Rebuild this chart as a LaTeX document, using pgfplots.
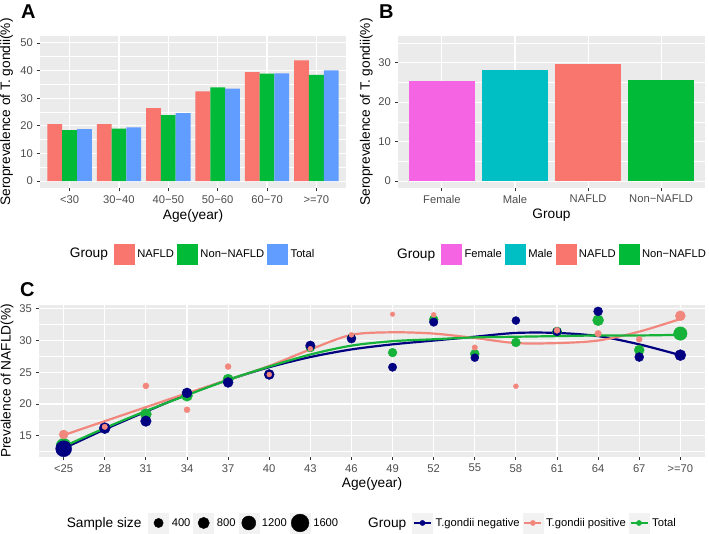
\documentclass[border=0pt]{standalone}
\usepackage{fontspec}
\setmainfont{Liberation Sans}
\usepackage{pgfplots}
\pgfplotsset{compat=1.18}
\definecolor{ggbg}{HTML}{EBEBEB}
\definecolor{ggred}{HTML}{F8766D}
\definecolor{gggreen}{HTML}{00BA38}
\definecolor{ggblue}{HTML}{619CFF}
\definecolor{ggpink}{HTML}{F564E3}
\definecolor{ggcyan}{HTML}{00BFC4}
\definecolor{ticklab}{HTML}{4D4D4D}
\definecolor{tickcol}{HTML}{333333}
\definecolor{cnavy}{HTML}{000080}
\definecolor{csalmon}{HTML}{F2877E}
\definecolor{cgreen}{HTML}{17B23A}
\definecolor{keybg}{HTML}{F2F2F2}
\newcommand{\ticksize}{\fontsize{11.2}{13}\selectfont}
\newcommand{\titlesize}{\fontsize{13.7}{15}\selectfont}
\pgfplotsset{
  gg/.style={
    scale only axis,
    axis background/.style={fill=ggbg},
    axis x line*=bottom, axis y line*=left,
    axis line style={draw=none},
    tick align=outside,
    major tick length=3.4pt,
    minor tick length=0pt,
    tick style={draw=tickcol, line width=0.8pt},
    xmajorgrids, ymajorgrids, yminorgrids,
    major grid style={draw=white, line width=1.1pt},
    minor grid style={draw=white, line width=0.55pt},
    tick label style={font=\ticksize, text=ticklab},
    xticklabel style={inner sep=0pt, anchor=north, yshift=-3.6pt},
    yticklabel style={inner sep=0pt, anchor=east, xshift=-3.6pt},
    label style={font=\titlesize},
    /pgf/number format/assume math mode=true,
    legend style={draw=none, fill=none, legend columns=-1, font=\ticksize,
      nodes={inner sep=3pt}, anchor=center},
  },
  sqkey/.style={legend image code/.code={\fill[#1] (0pt,-10pt) rectangle (20pt,10pt);}},
  dotkey/.style={legend image code/.code={\fill[keybg] (0pt,-10pt) rectangle (20pt,10pt);\fill[black] (10pt,0pt) circle (#1);}},
  linekey/.style={legend image code/.code={\fill[keybg] (0pt,-10pt) rectangle (20pt,10pt);\draw[#1, line width=2.2pt] (1.5pt,0pt) -- (18.5pt,0pt);\fill[#1] (10pt,0pt) circle (2.6pt);}},
  sized/.style={scatter, only marks, mark=*, point meta=y,
    scatter/use mapped color={draw=#1, fill=#1},
    visualization depends on={\thisrow{r} \as \rad},
    scatter/@pre marker code/.append style={/tikz/mark size=\rad}},
}
\begin{document}
\begin{tikzpicture}
\useasboundingbox (0pt,0pt) rectangle (709pt,-534pt);
% ---------------- Panel A ----------------
\begin{axis}[gg,
  at={(40pt,-188pt)}, anchor=south west, width=306pt, height=152pt,
  xmin=0.4, xmax=6.6, ymin=-2.5, ymax=52.5,
  xtick={1,2,3,4,5,6},
  xticklabels={<30,30−40,40−50,50−60,60−70,>=70},
  ytick={0,10,20,30,40,50}, minor ytick={5,15,25,35,45},
  xlabel={Age(year)}, ylabel={Seroprevalence of T. gondii(\%)},
  xlabel style={at={(axis description cs:0.5,-0.184)}, anchor=center},
  ylabel style={at={(axis description cs:-0.109,0.5)}, anchor=center},
  legend style={at={(axis description cs:0.497,-0.434)}},
]
\addplot[forget plot, ybar, bar width=0.3, bar shift=-0.3, fill=ggred, draw=none]
  coordinates {(1,20.6) (2,20.6) (3,26.4) (4,32.5) (5,39.4) (6,43.7)};
\addplot[forget plot, ybar, bar width=0.3, bar shift=0, fill=gggreen, draw=none]
  coordinates {(1,18.4) (2,19.0) (3,23.9) (4,33.9) (5,38.9) (6,38.4)};
\addplot[forget plot, ybar, bar width=0.3, bar shift=0.3, fill=ggblue, draw=none]
  coordinates {(1,18.8) (2,19.4) (3,24.6) (4,33.5) (5,39.0) (6,40.1)};
\addlegendimage{empty legend}\addlegendentry{\titlesize Group\kern3pt}
\addlegendimage{sqkey=ggred}\addlegendentry{NAFLD}
\addlegendimage{sqkey=gggreen}\addlegendentry{Non−NAFLD}
\addlegendimage{sqkey=ggblue}\addlegendentry{Total}
\end{axis}
% ---------------- Panel B ----------------
\begin{axis}[gg,
  at={(398pt,-188pt)}, anchor=south west, width=307pt, height=152pt,
  xmin=0.4, xmax=4.6, ymin=-1.75, ymax=36.75,
  xtick={1,2,3,4},
  xticklabels={Female,Male,NAFLD,Non−NAFLD},
  ytick={0,10,20,30}, minor ytick={5,15,25,35},
  xlabel={Group}, ylabel={Seroprevalence of T. gondii(\%)},
  xlabel style={at={(axis description cs:0.5,-0.181)}, anchor=center},
  ylabel style={at={(axis description cs:-0.103,0.5)}, anchor=center},
  legend style={at={(axis description cs:0.500,-0.434)}},
]
\addplot[forget plot, ybar, bar width=0.9, bar shift=0, fill=ggpink, draw=none] coordinates {(1,25.3)};
\addplot[forget plot, ybar, bar width=0.9, bar shift=0, fill=ggcyan, draw=none] coordinates {(2,28.2)};
\addplot[forget plot, ybar, bar width=0.9, bar shift=0, fill=ggred, draw=none] coordinates {(3,29.7)};
\addplot[forget plot, ybar, bar width=0.9, bar shift=0, fill=gggreen, draw=none] coordinates {(4,25.6)};
\addlegendimage{empty legend}\addlegendentry{\titlesize Group\kern3pt}
\addlegendimage{sqkey=ggpink}\addlegendentry{Female}
\addlegendimage{sqkey=ggcyan}\addlegendentry{Male}
\addlegendimage{sqkey=ggred}\addlegendentry{NAFLD}
\addlegendimage{sqkey=gggreen}\addlegendentry{Non−NAFLD}
\end{axis}
% ---------------- Panel C ----------------
\begin{axis}[gg,
  at={(39pt,-457pt)}, anchor=south west, width=666pt, height=152pt,
  xmin=-0.6, xmax=15.6, ymin=11.65, ymax=35.6,
  xtick={0,1,...,15},
  xticklabels={<25,28,31,34,37,40,43,46,49,52,55,58,61,64,67,>=70},
  ytick={15,20,25,30,35}, minor ytick={12.5,17.5,22.5,27.5,32.5},
  xlabel={Age(year)}, ylabel={Prevalence of NAFLD(\%)},
  xlabel style={at={(axis description cs:0.5,-0.178)}, anchor=center},
  ylabel style={at={(axis description cs:-0.048,0.5)}, anchor=center},
  legend style={at={(axis description cs:0.499,-0.434)}},
]
% points: total
\addplot[forget plot, sized=cgreen] table {
x y r
0 13.4 7.5
1 16.2 5
2 18.4 5.5
3 21.3 5.5
4 23.9 5.2
5 24.7 4.5
6 28.9 4.5
7 30.5 4
8 28.1 4.4
9 33.3 4.5
10 27.9 4.5
11 29.7 4.5
12 31.4 4.75
13 33.2 5.5
14 28.5 5
15 31.1 6.75
};
% points: negative
\addplot[forget plot, sized=cnavy] table {
x y r
0 12.95 8
1 16.2 5.5
2 17.3 5.3
3 21.75 5
4 23.4 5
5 24.65 5
6 29.2 4.75
7 30.3 4.5
8 25.8 4.2
9 32.9 4.25
10 27.3 4
11 33.15 4
12 31.4 4.25
13 34.6 4.5
14 27.4 4.5
15 27.7 5.5
};
% points: positive
\addplot[forget plot, sized=csalmon] table {
x y r
0 15.2 4.5
1 16.4 2.75
2 22.85 3
3 19.1 3
4 25.9 3
5 24.65 2.5
6 28.7 2.5
7 30.9 2.5
8 34.15 2.3
9 34.05 2.5
10 28.9 2.75
11 22.8 2.5
12 31.6 3
13 31.1 3.25
14 30.2 3
15 33.9 5
};
% smooth curves
\addplot[forget plot, cnavy, line width=2.2pt, smooth, no marks] coordinates {
(0,13.0) (1,16.0) (2,18.8) (3,21.5) (4,23.8) (5,25.8) (6,27.4) (7,28.6)
(8,29.4) (9,30.0) (10,30.6) (11,31.2) (12,31.2) (13,30.7) (14,29.4) (15,27.7)};
\addplot[forget plot, csalmon, line width=2.2pt, smooth, no marks] coordinates {
(0,15.1) (1,17.3) (2,19.5) (3,21.7) (4,23.8) (5,26.0) (6,28.6) (7,30.9)
(8,31.3) (9,31.1) (10,30.4) (11,29.6) (12,29.6) (13,30.0) (14,31.4) (15,33.4)};
\addplot[forget plot, cgreen, line width=2.2pt, smooth, no marks] coordinates {
(0,13.3) (1,16.2) (2,18.9) (3,21.4) (4,23.8) (5,25.9) (6,27.8) (7,29.2)
(8,29.9) (9,30.2) (10,30.5) (11,30.6) (12,30.7) (13,30.8) (14,30.8) (15,30.9)};
\addlegendimage{empty legend}\addlegendentry{\titlesize Sample size\kern4pt}
\addlegendimage{dotkey=4.65pt}\addlegendentry{400}
\addlegendimage{dotkey=5.65pt}\addlegendentry{800}
\addlegendimage{dotkey=7pt}\addlegendentry{1200}
\addlegendimage{dotkey=8.85pt}\addlegendentry{1600\kern24pt}
\addlegendimage{empty legend}\addlegendentry{\titlesize Group\kern3pt}
\addlegendimage{linekey=cnavy}\addlegendentry{T.gondii negative}
\addlegendimage{linekey=csalmon}\addlegendentry{T.gondii positive}
\addlegendimage{linekey=cgreen}\addlegendentry{Total}
\end{axis}
\node[anchor=base west, inner sep=0pt, font=\fontsize{20}{22}\selectfont\bfseries] at (21pt,-19pt) {A};
\node[anchor=base west, inner sep=0pt, font=\fontsize{20}{22}\selectfont\bfseries] at (379pt,-19pt) {B};
\node[anchor=base west, inner sep=0pt, font=\fontsize{20}{22}\selectfont\bfseries] at (20pt,-297pt) {C};
\end{tikzpicture}
\end{document}
